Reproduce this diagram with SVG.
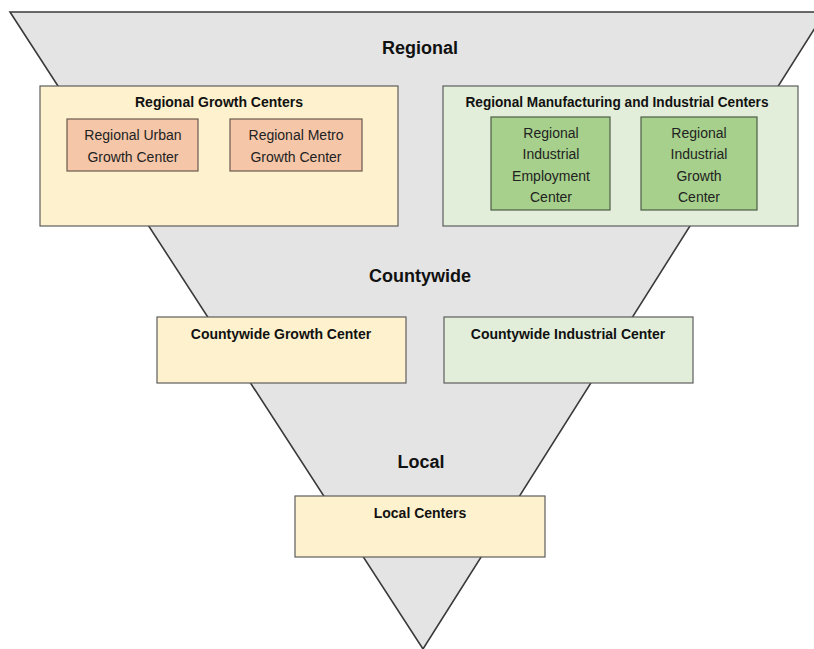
<svg xmlns="http://www.w3.org/2000/svg" width="814" height="649" viewBox="0 0 814 649">
<style>
.bg{fill:#ffffff}
.funnel{fill:#e4e4e4;stroke:#3a3a3a;stroke-width:1.6;stroke-linejoin:miter}
.yellow{fill:#fef1cd;stroke:#5e5e5e;stroke-width:1.2}
.green{fill:#e2eed9;stroke:#5e5e5e;stroke-width:1.2}
.peach{fill:#f5c6a8;stroke:#6a5a50;stroke-width:1.2}
.dgreen{fill:#a6d08b;stroke:#4e5e48;stroke-width:1.2}
.lvl{font-family:"Liberation Sans",Arial,sans-serif;font-weight:bold;font-size:18px;fill:#111;text-anchor:middle}
.ttl{font-family:"Liberation Sans",Arial,sans-serif;font-weight:bold;font-size:14px;fill:#111;text-anchor:middle}
.txt{font-family:"Liberation Sans",Arial,sans-serif;font-size:14px;fill:#222;text-anchor:middle}
</style>
<rect class="bg" x="0" y="0" width="814" height="649"/>
<polygon id="funnel" class="funnel" points="10,12 825,12 423,649"/>
<text class="lvl" x="420" y="54">Regional</text>
<text class="lvl" x="420" y="282">Countywide</text>
<text class="lvl" x="421" y="468">Local</text>

<g id="regional-growth-centers">
<rect class="yellow" x="40" y="86" width="358" height="140"/>
<text class="ttl" x="219" y="107">Regional Growth Centers</text>
</g>
<g id="regional-urban-growth-center">
<rect class="peach" x="67" y="119" width="131" height="52"/>
<text class="txt" x="133" y="140">Regional Urban</text>
<text class="txt" x="133" y="162">Growth Center</text>
</g>
<g id="regional-metro-growth-center">
<rect class="peach" x="230" y="119" width="132" height="52"/>
<text class="txt" x="296" y="140">Regional Metro</text>
<text class="txt" x="296" y="162">Growth Center</text>
</g>

<g id="regional-mic">
<rect class="green" x="443" y="86" width="355" height="140"/>
<text class="ttl" x="617" y="107" textLength="303" lengthAdjust="spacingAndGlyphs">Regional Manufacturing and Industrial Centers</text>
</g>
<g id="regional-industrial-employment-center">
<rect class="dgreen" x="491" y="117" width="119" height="93"/>
<text class="txt" x="551" y="138">Regional</text>
<text class="txt" x="551" y="159">Industrial</text>
<text class="txt" x="551" y="181">Employment</text>
<text class="txt" x="551" y="202">Center</text>
</g>
<g id="regional-industrial-growth-center">
<rect class="dgreen" x="641" y="117" width="116" height="93"/>
<text class="txt" x="699" y="138">Regional</text>
<text class="txt" x="699" y="159">Industrial</text>
<text class="txt" x="699" y="181">Growth</text>
<text class="txt" x="699" y="202">Center</text>
</g>

<g id="countywide-growth-center">
<rect class="yellow" x="157" y="317" width="249" height="66"/>
<text class="ttl" x="281" y="339">Countywide Growth Center</text>
</g>
<g id="countywide-industrial-center">
<rect class="green" x="444" y="317" width="249" height="66"/>
<text class="ttl" x="568" y="339">Countywide Industrial Center</text>
</g>

<g id="local-centers">
<rect class="yellow" x="295" y="496" width="250" height="61"/>
<text class="ttl" x="420" y="518">Local Centers</text>
</g>

<g id="connectors"></g>
</svg>
